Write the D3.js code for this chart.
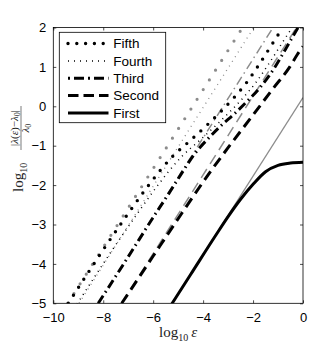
<!DOCTYPE html>
<html><head><meta charset="utf-8">
<script src="https://cdn.jsdelivr.net/npm/d3@7"></script>
<style>body{margin:0;background:#fff}svg{display:block}</style>
</head><body>
<script>
// ---- data (log10 epsilon, log10 relative error) ----
const xTicks = [-10, -8, -6, -4, -2, 0];
const yTicks = [-5, -4, -3, -2, -1, 0, 1, 2];
const legendLabels = ["Fifth", "Fourth", "Third", "Second", "First"];

const fifthGray  = [[-9.42, -5], [-2.42, 2]];
const fourthGray = [[-8.97, -5], [-1.97, 2]];
const thirdGray  = [[-8.2, -5], [-1.2, 2]];
const secondGray = [[-7.26, -5], [-0.26, 2]];
const firstGray  = [[-5.24, -5], [0, 0.22]];

const fifthBlack = [[-9.4,-5.0],[-8.5,-4.12],[-8.0,-3.64],[-7.0,-2.72],[-6.25,-2.06],[-5.25,-1.29],[-4.5,-0.86],[-3.75,-0.42],[-2.75,0.23],[-2.25,0.61],[-1.75,1.07],[-1.0,1.81],[-0.8,2.0]];
const fourthBlack = [[-9.05,-5.02],[-8.13,-4.12],[-7.63,-3.64],[-6.63,-2.72],[-5.88,-2.06],[-4.88,-1.29],[-4.13,-0.86],[-3.38,-0.42],[-2.38,0.23],[-1.88,0.61],[-1.38,1.07],[-0.63,1.81],[-0.43,2.0]];
const thirdBlack = [[-8.2,-5.0],[-7.0,-3.82],[-6.0,-2.82],[-5.4,-2.24],[-4.9,-1.74],[-4.33,-1.2],[-3.8,-0.82],[-3.3,-0.5],[-2.73,-0.18],[-2.2,0.15],[-1.69,0.5],[-1.16,0.96],[-0.7,1.45],[-0.2,2.0]];
const secondBlack = [[-7.26,-5.0],[-6.0,-3.8],[-4.86,-2.72],[-3.8,-1.74],[-3.0,-1.05],[-2.0,-0.22],[-1.2,0.45],[-0.53,1.0],[-0.22,1.32],[0,1.52]];
const firstBlack = [[-5.26,-5.02],[-4.5,-4.27],[-3.5,-3.28],[-3.0,-2.8],[-2.5,-2.36],[-2.0,-1.98],[-1.5,-1.66],[-1.0,-1.5],[-0.5,-1.44],[0,-1.42]];

// ---- layout ----
const W = 335, H = 353;
const svg = d3.select("body").append("svg").attr("width", W).attr("height", H)
  .style("font-family", "'Liberation Sans', Arial, sans-serif");
const x = d3.scaleLinear().domain([-10, 0]).range([53.3, 303]);
const y = d3.scaleLinear().domain([-5, 2]).range([303.3, 27.5]);

svg.append("defs").append("clipPath").attr("id", "clip")
  .append("rect").attr("x", x(-10)).attr("y", y(2))
  .attr("width", x(0) - x(-10)).attr("height", y(-5) - y(2));

const line = d3.line().x(d => x(d[0])).y(d => y(d[1])).curve(d3.curveMonotoneX);
const plot = svg.append("g").attr("clip-path", "url(#clip)");

const GRAY = "#8c8c8c";
const styles = {
  fifthG:  {c: GRAY, w: 3.2, dash: "0,11.5", cap: "round"},
  fourthG: {c: GRAY, w: 1.3, dash: "1,4.5", cap: "butt"},
  thirdG:  {c: GRAY, w: 1.5, dash: "9,4,1.5,4", cap: "butt"},
  secondG: {c: GRAY, w: 1.5, dash: "10.5,6", cap: "butt"},
  firstG:  {c: GRAY, w: 1.3, dash: null, cap: "butt"},
  fifth:   {c: "#000", w: 3.4, dash: "0,9.5", cap: "round"},
  fourth:  {c: "#000", w: 1.5, dash: "1,4.5", cap: "butt"},
  third:   {c: "#000", w: 3, dash: "9,4,1.5,4", cap: "butt"},
  second:  {c: "#000", w: 3, dash: "10.5,6", cap: "butt"},
  first:   {c: "#000", w: 3, dash: null, cap: "butt"}
};
function draw(data, s) {
  const p = plot.append("path").datum(data).attr("d", line)
    .attr("fill", "none").attr("stroke", s.c).attr("stroke-width", s.w)
    .attr("stroke-linecap", s.cap).attr("stroke-linejoin", "round");
  if (s.dash) p.attr("stroke-dasharray", s.dash);
}
draw(firstGray, styles.firstG);
draw(secondGray, styles.secondG);
draw(thirdGray, styles.thirdG);
draw(fourthGray, styles.fourthG);
draw(fifthGray, styles.fifthG);
draw(firstBlack, styles.first);
draw(secondBlack, styles.second);
draw(thirdBlack, styles.third);
draw(fourthBlack, styles.fourth);
draw(fifthBlack, styles.fifth);

// ---- axes (inward ticks, box) ----
const tl = 3;
const fmt = d3.format("d");
const ax = (gen, tx, ty, labels) => {
  const g = svg.append("g").attr("transform", `translate(${tx},${ty})`).call(gen);
  g.select(".domain").remove();
  g.selectAll(".tick line").attr("stroke", "#000").attr("stroke-width", 0.7);
  g.selectAll(".tick text").attr("fill", "#000").style("font-size", "13px")
    .style("font-family", "'Liberation Sans', Arial, sans-serif");
  if (!labels) g.selectAll(".tick text").remove();
  return g;
};
ax(d3.axisBottom(x).tickValues(xTicks).tickFormat(fmt).tickSizeInner(-tl).tickSizeOuter(0).tickPadding(9), 0, y(-5), true);
ax(d3.axisTop(x).tickValues(xTicks).tickSizeInner(-tl).tickSizeOuter(0), 0, y(2), false);
ax(d3.axisLeft(y).tickValues(yTicks).tickFormat(fmt).tickSizeInner(-tl).tickSizeOuter(0).tickPadding(7), x(-10), 0, true);
ax(d3.axisRight(y).tickValues(yTicks).tickSizeInner(-tl).tickSizeOuter(0), x(0), 0, false);
svg.append("rect").attr("x", x(-10)).attr("y", y(2)).attr("width", x(0) - x(-10))
  .attr("height", y(-5) - y(2)).attr("fill", "none").attr("stroke", "#000").attr("stroke-width", 0.8);

// ---- legend ----
const lg = svg.append("g");
lg.append("rect").attr("x", 59.3).attr("y", 32.3).attr("width", 106.4).attr("height", 90.4)
  .attr("fill", "#fff").attr("stroke", "#000").attr("stroke-width", 0.8);
const legStyles = [styles.fifth, styles.fourth, styles.third, styles.second, styles.first];
const legDash = ["0,8.8", "1,5", "2,4,10,4", "10.5,5", null];
const legY = [43.5, 61, 78.3, 95.5, 113];
legendLabels.forEach((lab, i) => {
  const s = legStyles[i];
  const p = lg.append("line").attr("x1", 68).attr("x2", 108.5).attr("y1", legY[i]).attr("y2", legY[i])
    .attr("stroke", s.c).attr("stroke-width", s.w).attr("stroke-linecap", s.cap);
  if (legDash[i]) p.attr("stroke-dasharray", legDash[i]);
  lg.append("text").attr("x", 113.3).attr("y", legY[i] + 4.7).text(lab)
    .style("font-size", "13.5px").attr("fill", "#000");
});

// ---- axis labels (math style) ----
const serif = "'Liberation Serif', 'DejaVu Serif', serif";
const xl = svg.append("text").attr("x", x(-5)).attr("y", 337).attr("text-anchor", "middle")
  .style("font-family", serif).style("font-size", "15px").attr("fill", "#222");
xl.append("tspan").text("log");
xl.append("tspan").attr("dy", 4).style("font-size", "10px").text("10");
xl.append("tspan").attr("dy", -4).text("\u2009");
xl.append("tspan").style("font-style", "italic").text("ε");

const yl = svg.append("g").attr("transform", "translate(18,149) rotate(-90)")
  .style("font-family", serif).attr("fill", "#222");
const logT = yl.append("text").attr("x", -43).attr("y", 5).style("font-size", "15px");
logT.append("tspan").text("log");
logT.append("tspan").attr("dy", 4).style("font-size", "10px").text("10");
const num = yl.append("text").attr("x", 21).attr("y", -0.5).attr("text-anchor", "middle").style("font-size", "11px");
num.append("tspan").text("|");
num.append("tspan").style("font-style", "italic").text("λ");
num.append("tspan").text("(");
num.append("tspan").style("font-style", "italic").text("ε");
num.append("tspan").text(")−");
num.append("tspan").style("font-style", "italic").text("λ");
num.append("tspan").attr("dy", 2).style("font-size", "8px").text("0");
num.append("tspan").attr("dy", -2).text("|");
yl.append("line").attr("x1", -1).attr("x2", 43).attr("y1", 3).attr("y2", 3)
  .attr("stroke", "#222").attr("stroke-width", 0.6);
const den = yl.append("text").attr("x", 21).attr("y", 11).attr("text-anchor", "middle").style("font-size", "11px");
den.append("tspan").style("font-style", "italic").text("λ");
den.append("tspan").attr("dy", 2).style("font-size", "8px").text("0");
</script>
</body></html>
